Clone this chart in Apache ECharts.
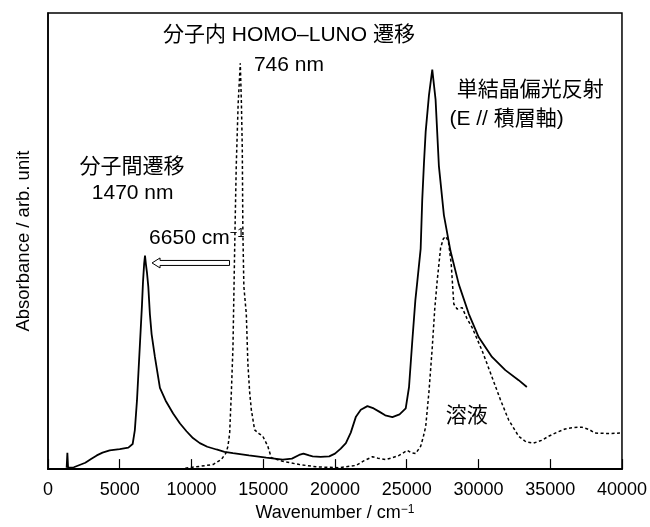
<!DOCTYPE html>
<html>
<head>
<meta charset="utf-8">
<script src="https://cdn.jsdelivr.net/npm/echarts@6/dist/echarts.min.js"></script>
<style>
  html, body { margin: 0; padding: 0; background: #fff; }
  #chart { width: 650px; height: 527px; }
</style>
</head>
<body>
<div id="chart"></div>
<script>
// 単結晶偏光反射 (solid) : [wavenumber, absorbance]
var crystalData = [
  [1300, 0.3], [1350, 3.6], [1400, 0.3], [1800, 0.4], [2200, 0.9], [2600, 1.4], [3000, 2.2],
  [3400, 3.0], [3800, 3.6], [4300, 4.1], [5000, 4.4], [5600, 4.7], [5900, 5.5], [6050, 8.5],
  [6200, 15], [6300, 21], [6450, 30], [6550, 36], [6620, 41], [6700, 45], [6760, 46.8],
  [6820, 45], [6900, 43], [6990, 40], [7100, 34], [7220, 29.6], [7450, 24.6], [7800, 17.8],
  [8200, 15], [8720, 12.2], [9200, 10], [9650, 8.3], [10100, 6.8], [10580, 5.7], [11100, 4.9],
  [11740, 4.3], [12300, 3.8], [12890, 3.5], [14000, 3.0], [15210, 2.5], [16360, 2.1],
  [17000, 2.3], [17500, 3.1], [17800, 3.4], [18200, 3.0], [18440, 2.8], [19000, 2.7],
  [19600, 2.8], [20000, 3.4], [20400, 4.5], [20760, 5.7], [21100, 8.0], [21460, 11.5],
  [21800, 13.0], [22260, 13.8], [22700, 13.3], [23080, 12.6], [23500, 11.8], [24000, 11.4],
  [24500, 12.0], [24930, 13.3], [25160, 18], [25390, 28.2], [25600, 37], [25740, 41.2],
  [25970, 48.3], [26080, 59], [26200, 67], [26320, 74], [26550, 82], [26780, 87.6],
  [27010, 81], [27240, 66.5], [27590, 55.7], [28050, 47.8], [28630, 40.5], [29330, 34],
  [30020, 28.9], [30940, 24.6], [31870, 21.7], [32800, 19.5], [33370, 18]
];
// 溶液 (dashed)
var solutionData = [
  [9190, 0], [9800, 0.3], [10580, 0.6], [11500, 1.0], [12080, 2.1], [12400, 3.5], [12540, 5],
  [12660, 7.9], [12780, 17], [12890, 26.7], [13010, 48.5], [13060, 57], [13120, 66.6],
  [13250, 80], [13400, 89], [13480, 80], [13540, 70.2], [13580, 52.2], [13650, 40],
  [13820, 34], [13930, 23.1], [14050, 17], [14170, 13], [14400, 8.6], [14700, 7.8],
  [14970, 7.2], [15320, 5], [15560, 2.5], [16360, 1.7], [17520, 1.0], [18680, 0.5],
  [20300, 0.3], [21460, 0.8], [22000, 1.8], [22610, 2.7], [23000, 2.4], [23540, 2.1],
  [24000, 2.5], [24460, 3.0], [25040, 4.1], [25300, 3.6], [25620, 3.4], [25970, 5],
  [26150, 7], [26320, 9.3], [26550, 17], [26780, 26.7], [26950, 35], [27120, 41.2],
  [27360, 48.5], [27550, 50.5], [27710, 51], [27900, 50], [28100, 45], [28280, 36.2],
  [28510, 35.1], [28860, 35.4], [29200, 33], [29550, 31.1], [30250, 26], [30940, 20.2],
  [31530, 15.2], [32100, 10.8], [32800, 7.2], [33300, 6], [33840, 5.7], [34400, 6.3],
  [34880, 7.2], [35500, 8.1], [36040, 8.8], [36600, 9.1], [37190, 9.2], [37700, 8.7],
  [38120, 7.9], [39040, 7.8], [39860, 7.9]
];
// shift arrow: from (x1) to (x2) at height y
var arrowData = [[12650, 7250, 45.2]];
// annotations: [wavenumber, absorbance, text]
var notes = [
  [16790, 95.1, '分子内 HOMO–LUNO 遷移'],
  [16790, 88.5, '746 nm'],
  [5850, 66.3, '分子間遷移'],
  [5900, 60.6, '1470 nm'],
  [10370, 50.7, '{t|6650 cm}{s|−1}'],
  [33610, 83.0, '単結晶偏光反射'],
  [31960, 76.7, '(E // 積層軸)'],
  [29190, 11.5, '溶液']
];
var xTicks = { min: 0, max: 40000, step: 5000 };

var FONT = "'Liberation Sans', 'Noto Sans CJK JP', sans-serif";
var chart = echarts.init(document.getElementById('chart'));

var option = {
  animation: false,
  backgroundColor: '#fff',
  grid: {
    left: 48, right: 27, top: 13, bottom: 54,
    show: true, borderColor: '#000', borderWidth: 1.5
  },
  xAxis: {
    type: 'value',
    min: xTicks.min, max: xTicks.max, interval: xTicks.step,
    name: '{t|Wavenumber / cm}{s|−1}',
    nameLocation: 'middle',
    nameGap: 28,
    nameTextStyle: {
      fontFamily: FONT, color: '#000',
      rich: {
        t: { fontSize: 18, fontFamily: FONT, color: '#000' },
        s: { fontSize: 12, fontFamily: FONT, color: '#000', verticalAlign: 'top', lineHeight: 3 }
      }
    },
    axisLine: { show: true, onZero: false, lineStyle: { color: '#000', width: 2 } },
    axisTick: { show: true, inside: true, length: 10, lineStyle: { color: '#000', width: 1.2 } },
    axisLabel: {
      fontSize: 18, color: '#000', fontFamily: FONT, margin: 12,
      formatter: function (v) { return String(v); }
    },
    splitLine: { show: false }
  },
  yAxis: {
    type: 'value',
    min: 0, max: 100,
    name: 'Absorbance / arb. unit',
    nameLocation: 'middle',
    nameGap: 15,
    nameTextStyle: { fontSize: 18.5, color: '#000', fontFamily: FONT },
    axisLine: { show: true, lineStyle: { color: '#000', width: 1.5 } },
    axisTick: { show: false },
    axisLabel: { show: false },
    splitLine: { show: false }
  },
  series: [
    {
      name: '単結晶偏光反射',
      type: 'line',
      data: crystalData,
      showSymbol: false,
      lineStyle: { color: '#000', width: 1.8 },
      z: 3
    },
    {
      name: '溶液',
      type: 'line',
      data: solutionData,
      showSymbol: false,
      lineStyle: { color: '#000', width: 1.5, type: [3, 2.5] },
      z: 2
    },
    {
      type: 'custom',
      data: arrowData,
      encode: { x: [0, 1], y: 2 },
      renderItem: function (params, api) {
        var s = api.coord([api.value(0), api.value(2)]);
        var e = api.coord([api.value(1), api.value(2)]);
        var hl = 8, hh = 5, bh = 2.5;
        return {
          type: 'polygon',
          shape: {
            points: [
              [e[0], e[1]],
              [e[0] + hl, e[1] - hh],
              [e[0] + hl, e[1] - bh],
              [s[0], s[1] - bh],
              [s[0], s[1] + bh],
              [e[0] + hl, e[1] + bh],
              [e[0] + hl, e[1] + hh]
            ]
          },
          style: { fill: '#fff', stroke: '#000', lineWidth: 1 }
        };
      },
      z: 4
    },
    {
      type: 'scatter',
      symbolSize: 0,
      silent: true,
      itemStyle: { opacity: 1 },
      data: notes.map(function (n) { return { value: [n[0], n[1]], name: n[2] }; }),
      label: {
        show: true,
        position: 'inside',
        opacity: 1,
        formatter: function (p) { return p.name; },
        fontSize: 21,
        color: '#000',
        fontFamily: FONT,
        rich: {
          t: { fontSize: 21, fontFamily: FONT, color: '#000' },
          s: { fontSize: 13, fontFamily: FONT, color: '#000', verticalAlign: 'top', lineHeight: 5 }
        }
      },
      z: 5
    }
  ]
};
chart.setOption(option);
</script>
</body>
</html>
